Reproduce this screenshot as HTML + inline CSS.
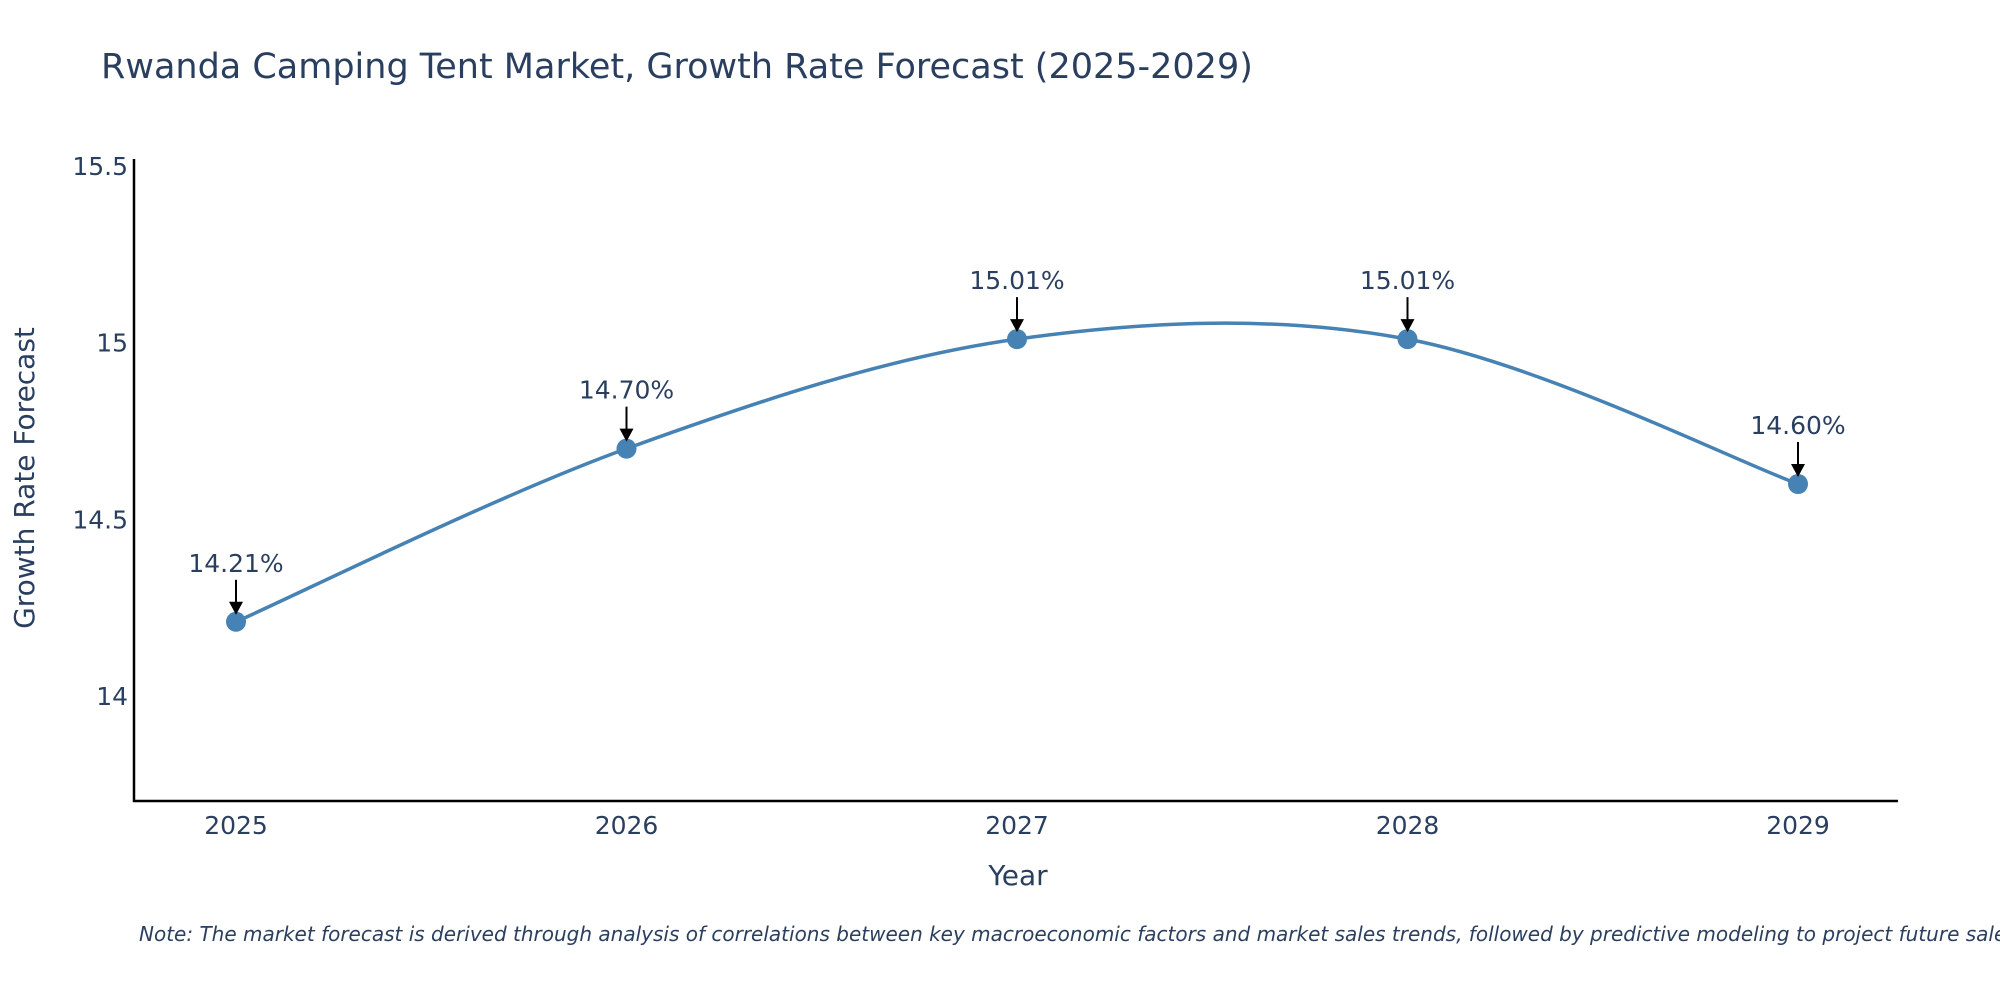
<!DOCTYPE html>
<html><head><meta charset="utf-8"><style>
html,body{margin:0;padding:0;background:#fff;}
svg{display:block;font-family:"DejaVu Sans","Liberation Sans",sans-serif;}
</style></head><body>
<svg id="chart" width="2000" height="1000" viewBox="0 0 2000 1000">
<text x="101" y="78" font-size="35" fill="#2a3f5f">Rwanda Camping Tent Market, Growth Rate Forecast (2025-2029)</text>
<g id="yticks"></g>
<g id="xticks"></g>
<line x1="134" y1="159" x2="134" y2="802" stroke="#000" stroke-width="2.5"/>
<line x1="133" y1="801" x2="1898" y2="801" stroke="#000" stroke-width="2.5"/>
<path id="line" fill="none" stroke="#4682b4" stroke-width="3.5"/>
<g id="points"></g>
<g id="annots"></g>
<text x="0" y="0" transform="translate(34,478) rotate(-90)" text-anchor="middle" font-size="28" fill="#2a3f5f">Growth Rate Forecast</text>
<text x="1018" y="885" text-anchor="middle" font-size="28" fill="#2a3f5f">Year</text>
<text x="139" y="941" font-size="20" font-style="italic" fill="#2a3f5f">Note: The market forecast is derived through analysis of correlations between key macroeconomic factors and market sales trends, followed by predictive modeling to project future sales.</text>
</svg>
<script>
const years = [2025, 2026, 2027, 2028, 2029];
const values = [14.21, 14.70, 15.01, 15.01, 14.60];
const labels = ["14.21%", "14.70%", "15.01%", "15.01%", "14.60%"];
const yTickValues = [14, 14.5, 15, 15.5];
const yTickLabels = ["14", "14.5", "15", "15.5"];

const NS = "http://www.w3.org/2000/svg";
function xs(v){ return 236 + (v - 2025) * (1798 - 236) / 4; }
function ys(v){ return 696 - (v - 14) * (696 - 166) / 1.5; }
function mk(tag, attrs, parent){ const e = document.createElementNS(NS, tag); for (const k in attrs) e.setAttribute(k, attrs[k]); parent.appendChild(e); return e; }

const yt = document.getElementById('yticks');
yTickValues.forEach((v, i) => {
  const t = mk('text', {x: 128, y: ys(v) + 9, 'text-anchor': 'end', 'font-size': 25, fill: '#2a3f5f'}, yt);
  
  
  t.textContent = yTickLabels[i];
});
const xt = document.getElementById('xticks');
years.forEach(y => {
  const t = mk('text', {x: xs(y), y: 834, 'text-anchor': 'middle', 'font-size': 25, fill: '#2a3f5f'}, xt);
  
  
  t.textContent = y;
});

const pts = years.map((y, i) => [xs(y), ys(values[i])]);
let d = `M${pts[0][0]},${pts[0][1]}`;
const s = 1/6;
for (let i = 0; i < pts.length - 1; i++) {
  const p0 = pts[Math.max(0, i-1)], p1 = pts[i], p2 = pts[i+1], p3 = pts[Math.min(pts.length-1, i+2)];
  const c1 = [p1[0] + (p2[0]-p0[0])*s, p1[1] + (p2[1]-p0[1])*s];
  const c2 = [p2[0] - (p3[0]-p1[0])*s, p2[1] - (p3[1]-p1[1])*s];
  d += ` C${c1[0]},${c1[1]} ${c2[0]},${c2[1]} ${p2[0]},${p2[1]}`;
}
document.getElementById('line').setAttribute('d', d);

const pg = document.getElementById('points');
const ag = document.getElementById('annots');
pts.forEach((p, i) => {
  const c = mk('circle', {cx: p[0], cy: p[1], r: 10, fill: '#4682b4'}, pg);
  
  
  const ln = mk('line', {x1: p[0], y1: p[1] - 42, x2: p[0], y2: p[1] - 18, stroke: '#000', 'stroke-width': 2}, ag);
  
  
  const hd = mk('polygon', {points: `${p[0]-7},${p[1]-20} ${p[0]+7},${p[1]-20} ${p[0]},${p[1]-7}`, fill: '#000'}, ag);
  
  
  const t = mk('text', {x: p[0], y: p[1] - 50, 'text-anchor': 'middle', 'font-size': 25, fill: '#2a3f5f'}, ag);
  
  
  t.textContent = labels[i];
});
</script>
</body></html>
